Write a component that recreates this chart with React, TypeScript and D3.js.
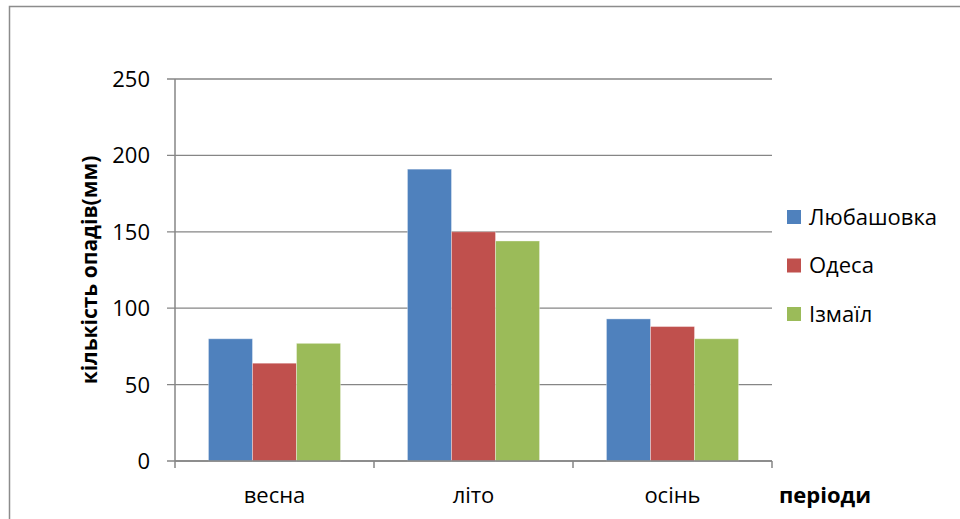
import React from "react";
import * as d3 from "d3";

const categories = ["весна", "літо", "осінь"];
const seriesNames = ["Любашовка", "Одеса", "Ізмаїл"];
const lyubashivka = [80, 191, 93];
const odesa = [64, 150, 88];
const izmail = [77, 144, 80];
const yTicks = [0, 50, 100, 150, 200, 250];
const colors = ["#4F81BD", "#C0504D", "#9BBB59"];

const W = 960;
const H = 519;
const FONT = "'Open Sans', 'Liberation Sans', Arial, sans-serif";

export default function App() {
  const values = [lyubashivka, odesa, izmail];
  const left = 175;
  const right = 772;
  const top = 79;
  const bottom = 461;

  const x0 = d3.scaleBand<string>().domain(categories).range([left, right]).padding(0);
  const x1 = d3
    .scaleBand<string>()
    .domain(seriesNames)
    .range([0, x0.bandwidth()])
    .paddingInner(0)
    .paddingOuter(0.76);
  const y = d3.scaleLinear().domain([0, 250]).range([bottom, top]);

  const gridColor = "#868686";

  return (
    <svg
      width={W}
      height={H}
      style={{ position: "fixed", left: 0, top: 0, background: "#fff" }}
      fontFamily={FONT}
    >
      <rect x={0} y={0} width={W} height={H} fill="#fff" />
      {/* chart frame */}
      <rect x={9.5} y={6.5} width={W + 20} height={H + 20} fill="none" stroke="#8c8c8c" strokeWidth={1.5} />

      {/* gridlines and y ticks */}
      {yTicks.map((t) => (
        <g key={t}>
          <line x1={left - 8} x2={right} y1={y(t)} y2={y(t)} stroke={gridColor} strokeWidth={1.3} />
          <text x={150} y={y(t)} dy="0.36em" textAnchor="end" fontSize={22} fill="#000">
            {t}
          </text>
        </g>
      ))}

      {/* bars */}
      {categories.map((c, ci) =>
        seriesNames.map((s, si) => {
          const v = values[si][ci];
          const bx = (x0(c) ?? 0) + (x1(s) ?? 0);
          return (
            <rect
              key={c + s}
              x={bx}
              y={y(v)}
              width={x1.bandwidth()}
              height={bottom - y(v)}
              fill={colors[si]}
              stroke="#ffffff"
              strokeOpacity={0.35}
              strokeWidth={1}
            />
          );
        })
      )}

      {/* axes */}
      <line x1={left} x2={left} y1={top} y2={bottom} stroke={gridColor} strokeWidth={1.5} />
      <line x1={left} x2={right} y1={bottom} y2={bottom} stroke={gridColor} strokeWidth={1.5} />
      {[...categories.map((c) => x0(c) ?? 0), right].map((tx, i) => (
        <line key={i} x1={tx} x2={tx} y1={bottom} y2={bottom + 7} stroke={gridColor} strokeWidth={1.5} />
      ))}

      {/* category labels */}
      {categories.map((c) => (
        <text
          key={c}
          x={(x0(c) ?? 0) + x0.bandwidth() / 2}
          y={495}
          dy="0.36em"
          textAnchor="middle"
          fontSize={22}
          fill="#000"
        >
          {c}
        </text>
      ))}
      <text x={779} y={495} dy="0.36em" fontSize={22} fontWeight="bold" fill="#000">
        періоди
      </text>

      {/* y axis title */}
      <text
        transform={`translate(89, ${270}) rotate(-90)`}
        textAnchor="middle"
        dy="0.36em"
        fontSize={21}
        fontWeight="bold"
        fill="#000"
      >
        кількість опадів(мм)
      </text>

      {/* legend */}
      {seriesNames.map((s, i) => {
        const ly = 217 + i * 48.5;
        return (
          <g key={s}>
            <rect x={787} y={ly - 7} width={14} height={14} fill={colors[i]} />
            <text x={809} y={ly} dy="0.36em" fontSize={22} fill="#000">
              {s}
            </text>
          </g>
        );
      })}
    </svg>
  );
}
